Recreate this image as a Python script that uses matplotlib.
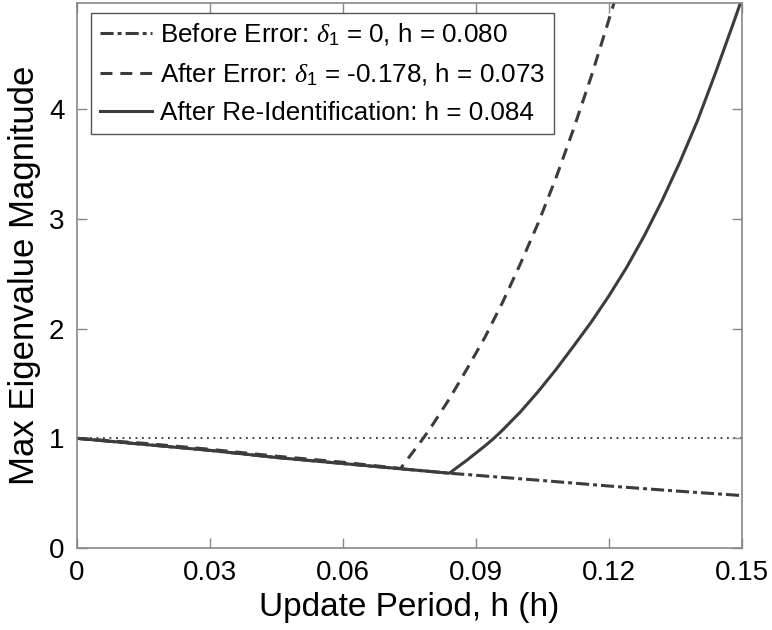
import matplotlib
matplotlib.use("Agg")
import matplotlib.pyplot as plt
import numpy as np

plt.rcParams['font.family'] = ['Liberation Sans', 'DejaVu Sans']
plt.rcParams['mathtext.fontset'] = 'custom'
plt.rcParams['mathtext.rm'] = 'Liberation Sans'
plt.rcParams['mathtext.it'] = 'Liberation Serif:italic'

# before error (delta_1 = 0), full sweep
h_before = [0.0, 0.015, 0.03, 0.045, 0.06, 0.075, 0.084, 0.09, 0.105, 0.12, 0.135, 0.15]
m_before = [1.0, 0.945, 0.89, 0.825, 0.77, 0.715, 0.682, 0.663, 0.615, 0.565, 0.52, 0.478]

# after error (delta_1 = -0.178)
h_after = [0.0, 0.015, 0.03, 0.045, 0.06, 0.073, 0.0781, 0.080, 0.084, 0.088, 0.092, 0.096,
           0.100, 0.104, 0.108, 0.112, 0.116, 0.120, 0.1215]
m_after = [1.0, 0.955, 0.90, 0.837, 0.782, 0.725, 1.0, 1.11, 1.36, 1.635, 1.92, 2.24,
           2.59, 2.96, 3.37, 3.82, 4.30, 4.82, 5.02]

# after re-identification
h_reid = [0.0, 0.015, 0.03, 0.045, 0.06, 0.075, 0.084, 0.088, 0.092, 0.0939, 0.096, 0.100,
          0.104, 0.108, 0.112, 0.116, 0.120, 0.124, 0.128, 0.132, 0.136, 0.140, 0.144, 0.148, 0.150]
m_reid = [1.0, 0.945, 0.89, 0.825, 0.77, 0.715, 0.682, 0.802, 0.93, 0.995, 1.075, 1.24,
          1.425, 1.625, 1.84, 2.06, 2.30, 2.56, 2.85, 3.17, 3.52, 3.90, 4.33, 4.78, 5.01]

labels = [r'Before Error: $\delta_1$ = 0, h = 0.080',
          r'After Error: $\delta_1$ = -0.178, h = 0.073',
          r'After Re-Identification: h = 0.084']

col = '#3c3c3c'
fig = plt.figure(figsize=(7.72, 6.3), dpi=100)
ax = fig.add_axes([0.0997, 0.1302, 0.8614, 0.865])

ax.axhline(1.0, color='#30304a', lw=1.3, dashes=(1, 2.6), zorder=1)
l1, = ax.plot(h_before, m_before, color=col, lw=2.2, dashes=(4.3, 1.3, 1.3, 1.3), label=labels[0])
l2, = ax.plot(h_after, m_after, color=col, lw=2.2, dashes=(3.9, 2.6), label=labels[1])
l3, = ax.plot(h_reid, m_reid, color=col, lw=2.2, label=labels[2])

ax.set_xlim(0, 0.15)
ax.set_ylim(0, 4.97)
ax.set_xticks([0, 0.03, 0.06, 0.09, 0.12, 0.15])
ax.set_xticklabels(['0', '0.03', '0.06', '0.09', '0.12', '0.15'])
ax.set_yticks([0, 1, 2, 3, 4])
ax.tick_params(direction='in', length=7, width=1, color='#888888', labelsize=20,
               top=True, right=True, pad=9)
for s in ax.spines.values():
    s.set_color('#888888')
    s.set_linewidth(1.2)

ax.set_xlabel('Update Period, h (h)', fontsize=24, labelpad=4)
ax.set_ylabel('Max Eigenvalue Magnitude', fontsize=25, labelpad=6)

leg = ax.legend(loc='upper left', bbox_to_anchor=(0.021, 0.982), fontsize=18.7,
                frameon=True, fancybox=False, edgecolor='#555555', framealpha=1,
                handlelength=2.0, handletextpad=0.3, labelspacing=0.52,
                borderpad=0.35, borderaxespad=0)
leg.get_frame().set_linewidth(1.0)

fig.savefig('out.png', dpi=100)
